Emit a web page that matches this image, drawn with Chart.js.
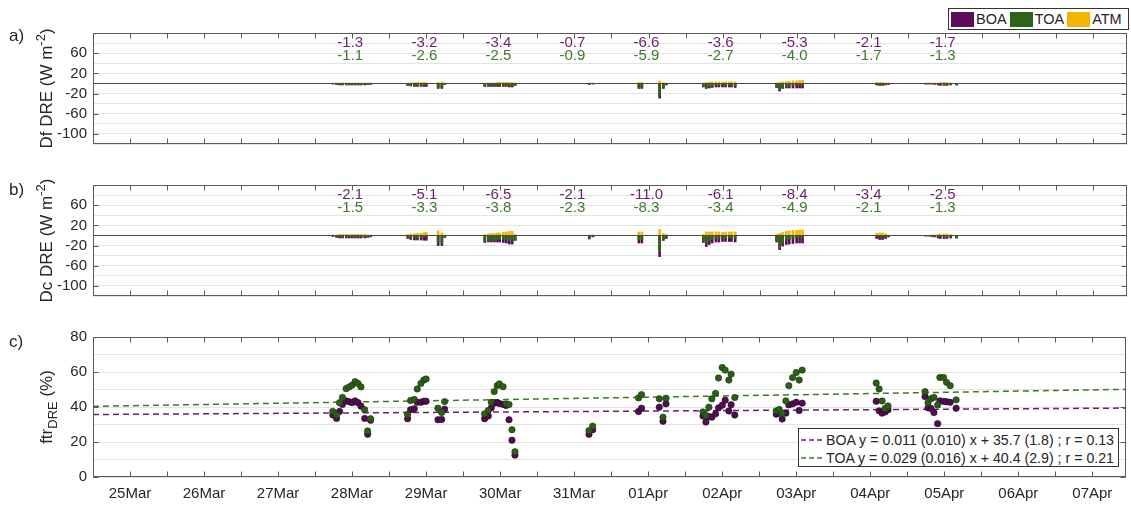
<!DOCTYPE html>
<html>
<head>
<meta charset="utf-8">
<script src="https://cdn.jsdelivr.net/npm/chart.js@4.4.0/dist/chart.umd.min.js"></script>
<style>
  html, body { margin: 0; padding: 0; background: #fff; }
  #wrap { position: relative; width: 1131px; height: 506px; overflow: hidden;
          font-family: 'Liberation Sans', Arial, Helvetica, sans-serif; color: #262626; }
  #wrap canvas { position: absolute; left: 0; top: 0; }
  .tag { position: absolute; left: 9px; font-size: 17px; line-height: 17px; }
  #topLegend { position: absolute; left: 948px; top: 8px; width: 181px; height: 22px; box-sizing: border-box;
               border: 1px solid #333; background: #fff; display: flex; align-items: center;
               padding-left: 2px; font-size: 14.5px; white-space: nowrap; }
  #topLegend .sw { width: 23px; height: 15px; margin-right: 2px; }
  #topLegend .lb { margin-right: 3px; }
  #fitLegend { position: absolute; left: 798px; top: 428px; width: 321px; height: 39px; box-sizing: border-box;
               border: 1px solid #333; background: #fff; font-size: 14.2px; padding: 2px 0 0 2px; white-space: nowrap; }
  #fitLegend .row { display: flex; align-items: center; height: 18px; }
  #fitLegend svg { margin-right: 1px; }
</style>
</head>
<body>
<div id="wrap">
  <canvas id="chartA" width="1131" height="506"></canvas>
  <canvas id="chartB" width="1131" height="506"></canvas>
  <canvas id="chartC" width="1131" height="506"></canvas>
  <div class="tag" style="top:27px">a)</div>
  <div class="tag" style="top:181px">b)</div>
  <div class="tag" style="top:333px">c)</div>
  <div id="topLegend">
    <span class="sw" style="background:#5c0c5c"></span><span class="lb">BOA</span>
    <span class="sw" style="background:#2d6418"></span><span class="lb">TOA</span>
    <span class="sw" style="background:#f4b400"></span><span class="lb">ATM</span>
  </div>
  <div id="fitLegend">
    <div class="row"><svg width="24" height="10"><line x1="0" y1="5" x2="24" y2="5" stroke="#6a1f6a" stroke-width="1.5" stroke-dasharray="5,3"/></svg><span>BOA y = 0.011 (0.010) x + 35.7 (1.8) ; r = 0.13</span></div>
    <div class="row"><svg width="24" height="10"><line x1="0" y1="5" x2="24" y2="5" stroke="#3d7a28" stroke-width="1.5" stroke-dasharray="5,3"/></svg><span>TOA y = 0.029 (0.016) x + 40.4 (2.9) ; r = 0.21</span></div>
  </div>
</div>
<script>
// x axis: days since 25 Mar 00:00
const dayLabels = ['25Mar', '26Mar', '27Mar', '28Mar', '29Mar', '30Mar', '31Mar',
                   '01Apr', '02Apr', '03Apr', '04Apr', '05Apr', '06Apr', '07Apr'];
const dayTicks = [0, 1, 2, 3, 4, 5, 6, 7, 8, 9, 10, 11, 12, 13];
const halfDayTicks = Array.from({ length: 27 }, (_, i) => i / 2);
const abLabels = [60, 20, -20, -60, -100];
const cLabels = [0, 20, 40, 60, 80];

// sampling times (days since 25 Mar)
const times = [
  2.74, 2.79, 2.83, 2.87, 2.92, 2.96, 3.00, 3.04, 3.08, 3.12, 3.17, 3.21, 3.25,   // 28Mar
  3.75, 3.79, 3.84, 3.88, 3.93, 3.97, 4.00, 4.16, 4.21, 4.25,                     // 29Mar
  4.79, 4.84, 4.88, 4.92, 4.96, 4.99, 5.04, 5.08, 5.12, 5.16, 5.20,               // 30Mar
  6.20, 6.25,                                                                     // 31Mar
  6.87, 6.91, 7.15, 7.20, 7.24,                                                   // 01Apr
  7.74, 7.78, 7.82, 7.86, 7.91, 7.95, 8.00, 8.04, 8.09, 8.12, 8.17,               // 02Apr
  8.73, 8.77, 8.81, 8.86, 8.90, 8.95, 9.00, 9.04, 9.08,                           // 03Apr
  10.08, 10.12, 10.16, 10.20, 10.24,                                              // 04Apr
  10.74, 10.78, 10.82, 10.86, 10.91, 10.94, 10.99, 11.03, 11.08, 11.16            // 05Apr
];

// a) Df DRE (W m-2)
const dfBoa = [
  -1, -2, -3, -3, -3, -3, -3, -3, -3, -3, -3, -2, -2,
  -4, -5, -6, -6, -6, -6, -6, -10, -10, -2,
  -6, -6, -6, -6, -6, -6, -6, -6, -7, -7, -4,
  -2, -1,
  -10, -10, -29, -10, -3,
  -7, -10, -9, -8, -7, -7, -7, -7, -7, -7, -8,
  -8, -15, -10, -9, -9, -9, -9, -9, -9,
  -3, -4, -4, -3, -2,
  -1, -1, -1, -2, -3, -4, -4, -4, -3, -3
];
const dfToa = [
  -1, -2, -2, -2, -2, -2, -2, -2, -2, -2, -2, -2, -1,
  -3, -4, -4, -4, -4, -4, -4, -8, -7, -2,
  -5, -5, -5, -5, -4, -4, -4, -4, -5, -5, -3,
  -1.5, -1,
  -8, -8, -24, -8, -2,
  -6, -8, -6, -5, -4, -4, -4, -4, -4, -4, -5,
  -7, -13, -8, -6, -5, -4, -4, -3, -3,
  -1, -2, -2, -2, -1,
  -0.5, -0.5, -1, -1, -2, -2, -2, -2, -2, -3
];
const dfAtm = [
  0.5, 1, 1, 1, 1, 1, 1, 1, 1, 1, 1, 0.5, 0.5,
  1, 1, 2, 2, 2, 2, 2, 2, 3, 0.5,
  1, 1, 1, 1, 2, 2, 2, 2, 2, 2, 1,
  0.5, 1,
  2, 2, 5, 2, 1,
  1, 2, 3, 3, 3, 3, 3, 3, 3, 3, 3,
  1, 2, 3, 4, 4, 5, 5, 6, 6,
  2, 2, 2, 1, 1,
  0.5, 0.5, 0.5, 1, 1, 2, 2, 2, 1, 0
];

// b) Dc DRE (W m-2)
const dcBoa = [
  -2, -4, -5, -5, -5, -5, -5, -5, -5, -5, -5, -4, -3,
  -6, -8, -9, -9, -9, -9.5, -9.5, -20, -20, -4,
  -14, -13, -13, -13, -13, -13, -14, -15, -17, -17, -10,
  -7, -3,
  -15, -15, -42, -10, -6,
  -14, -22, -18, -15, -13, -13, -12, -12, -12, -12, -13,
  -13, -28, -21, -18, -17, -16, -15, -15, -15,
  -6, -8, -8, -6, -3,
  -1, -1, -2, -3, -5, -6, -6, -6, -5, -5
];
const dcToa = [
  -2, -3, -3, -3, -3, -3, -3, -3, -3, -3, -3, -3, -2,
  -4, -5, -5.5, -5, -4.5, -4, -3.5, -14, -15, -3,
  -12, -11, -10, -9, -9, -8, -8, -8, -9, -10, -8,
  -6, -2,
  -8, -8, -33, -8, -4,
  -12, -15, -11, -8, -6, -6, -6, -5, -5, -5, -6,
  -11, -24, -15, -10, -8, -6, -5, -4, -4,
  -2, -3, -3, -3, -2,
  -1, -1, -1, -2, -3, -3, -3, -3, -3, -5
];
const dcAtm = [
  1, 1, 2, 2, 2, 2, 2, 2, 2, 2, 2, 1, 1,
  2, 3, 3.5, 4, 4.5, 5.5, 6, 9, 5, 1,
  2, 3, 4, 4, 5, 5, 6, 7, 8, 8, 2,
  1, 1,
  7, 7, 12, 4, 2,
  2, 7, 7, 7, 7, 7, 6, 7, 7, 7, 7,
  2, 4, 6, 8, 9, 10, 10, 11, 11,
  4, 5, 5, 3, 1,
  0, 0, 1, 1, 2, 3, 3, 3, 2, 0
];

// daily means written above panels a and b
const meanDays = [3, 4, 5, 6, 7, 8, 9, 10, 11];
const dfMeanBoa = [-1.3, -3.2, -3.4, -0.7, -6.6, -3.6, -5.3, -2.1, -1.7];
const dfMeanToa = [-1.1, -2.6, -2.5, -0.9, -5.9, -2.7, -4.0, -1.7, -1.3];
const dcMeanBoa = [-2.1, -5.1, -6.5, -2.1, -11.0, -6.1, -8.4, -3.4, -2.5];
const dcMeanToa = [-1.5, -3.3, -3.8, -2.3, -8.3, -3.4, -4.9, -2.1, -1.3];

// c) ftr DRE (%)
const ftrBoa = [
  35.5, 33.5, 37.5, 41.5, 43.5, 43.0, 42.5, 43.5, 42.5, 40.5, 33.5, 24.4, 32.4,
  33.3, 38.4, 39.0, 42.7, 42.7, 43.3, 43.3, 32.7, 32.9, 38.8,
  33.3, 34.9, 39.5, 42.2, 42.5, 42.0, 41.5, 40.8, 32.7, 21.0, 12.5,
  24.4, 27.0,
  37.4, 39.3, 39.9, 31.8, 41.8,
  34.9, 31.4, 34.6, 34.2, 36.1, 39.5, 41.0, 43.9, 37.7, 41.3, 35.4,
  35.9, 36.5, 33.1, 36.5, 41.2, 41.8, 42.7, 38.0, 42.2,
  43.3, 37.8, 36.5, 37.2, 38.4,
  46.0, 39.5, 39.2, 36.8, 30.5, 43.5, 43.2, 43.0, 42.7, 39.3
];
const ftrToa = [
  37.5, 35.5, 42.5, 45.5, 50.5, 51.5, 52.5, 54.5, 53.5, 51.5, 38.5, 26.3, 33.3,
  35.7, 43.7, 44.3, 50.3, 53.5, 55.4, 56.0, 39.3, 36.9, 43.1,
  36.1, 38.0, 42.7, 48.8, 52.2, 53.2, 51.6, 41.8, 41.4, 27.0, 14.4,
  26.5, 29.0,
  45.2, 47.1, 44.7, 34.2, 45.0,
  37.2, 35.2, 39.9, 44.7, 47.8, 56.6, 62.6, 61.1, 55.4, 58.8, 45.4,
  37.8, 38.6, 36.3, 43.5, 52.2, 56.8, 59.7, 55.4, 61.1,
  53.7, 50.3, 43.4, 39.2, 40.6,
  48.8, 42.5, 44.7, 45.5, 41.2, 56.9, 56.9, 54.1, 52.2, 44.1
];
// fit lines, end points at the axis limits
const fitX = [-0.5, 13.46];
const fitBoa = [35.7, 39.4];
const fitToa = [40.4, 50.1];

const X_MIN = -0.5, X_MAX = 13.46;
const C_BOA = '#5c0c5c', C_TOA = '#2d6418', C_ATM = '#f4b400';
const FONT = "'Liberation Sans', Arial, Helvetica, sans-serif";

Chart.defaults.font.family = FONT;
Chart.defaults.color = '#262626';

const pts = (xs, ys) => xs.map((t, i) => ({ x: t, y: ys[i] }));

// box, inward ticks and zero line, like the matlab axes
function framePlugin(yTicks, zeroLine) {
  return {
    id: 'frame',
    afterDatasetsDraw(chart) {
      const { ctx, chartArea: a, scales: { x, y } } = chart;
      const L = Math.round(a.left) + 0.5, R = Math.round(a.right) - 0.5;
      const T = Math.round(a.top) + 0.5, B = Math.round(a.bottom) - 0.5;
      ctx.save();
      ctx.lineWidth = 1;
      if (zeroLine) {
        const zy = Math.round(y.getPixelForValue(0)) + 0.5;
        ctx.strokeStyle = '#4a4a4a';
        ctx.beginPath(); ctx.moveTo(L, zy); ctx.lineTo(R, zy); ctx.stroke();
      }
      ctx.strokeStyle = '#5a5a5a';
      ctx.beginPath();
      halfDayTicks.forEach(v => {
        const px = Math.round(x.getPixelForValue(v)) + 0.5;
        ctx.moveTo(px, T); ctx.lineTo(px, T + 5);
        ctx.moveTo(px, B); ctx.lineTo(px, B - 5);
      });
      yTicks.forEach(v => {
        const py = Math.round(y.getPixelForValue(v)) + 0.5;
        ctx.moveTo(L, py); ctx.lineTo(L + 5, py);
        ctx.moveTo(R, py); ctx.lineTo(R - 5, py);
      });
      ctx.stroke();
      ctx.strokeRect(L, T, R - L, B - T);
      ctx.restore();
    }
  };
}

// rotated y title; parts with dy are drawn small and moved off the baseline
function yTitlePlugin(parts) {
  return {
    id: 'ytitle',
    afterDraw(chart) {
      const { ctx, chartArea: a } = chart;
      const big = '17px ' + FONT, small = '13px ' + FONT;
      ctx.save();
      ctx.fillStyle = '#262626';
      ctx.textBaseline = 'middle';
      const widths = parts.map(p => { ctx.font = p.dy ? small : big; return ctx.measureText(p.t).width; });
      const total = widths.reduce((s, w) => s + w, 0);
      ctx.translate(47, (a.top + a.bottom) / 2);
      ctx.rotate(-Math.PI / 2);
      let cx = -total / 2;
      parts.forEach((p, i) => {
        ctx.font = p.dy ? small : big;
        ctx.fillText(p.t, cx, p.dy ? p.dy : 0);
        cx += widths[i];
      });
      ctx.restore();
    }
  };
}

// daily mean values above the bars
function meansPlugin(boa, toa) {
  return {
    id: 'means',
    afterDraw(chart) {
      const { ctx, scales: { x, y } } = chart;
      ctx.save();
      ctx.font = '15px ' + FONT;
      ctx.textAlign = 'center';
      ctx.textBaseline = 'middle';
      meanDays.forEach((d, i) => {
        const px = x.getPixelForValue(d) - 2;
        ctx.fillStyle = '#6b1f6b';
        ctx.fillText(boa[i].toFixed(1), px, y.getPixelForValue(80.3));
        ctx.fillStyle = '#3f7a28';
        ctx.fillText(toa[i].toFixed(1), px, y.getPixelForValue(55.3));
      });
      ctx.restore();
    }
  };
}

function xScale(show) {
  return {
    type: 'linear', min: X_MIN, max: X_MAX, offset: false, display: show,
    grid: { display: false, drawTicks: false },
    border: { display: false },
    afterBuildTicks: s => { s.ticks = dayTicks.map(v => ({ value: v })); },
    ticks: { autoSkip: false, maxRotation: 0, padding: 8, font: { size: 15 },
             callback: (v, i) => dayLabels[i] },
    afterFit: s => { s.height = 29; }
  };
}

function yScale(min, max, step, labels) {
  return {
    min, max,
    ticks: { stepSize: step, autoSkip: false, padding: 6, font: { size: 15 },
             callback: v => labels.includes(v) ? String(v) : '' },
    grid: { color: '#e3e3e3', drawTicks: false },
    border: { display: false },
    afterFit: s => { s.width = 93; }
  };
}

function barDs(label, ys, color, order) {
  return { type: 'bar', label, data: pts(times, ys), backgroundColor: color,
           borderWidth: 0, barThickness: 2, grouped: false, order };
}

function barChart(id, boa, toa, atm, mBoa, mToa, top, title) {
  return new Chart(document.getElementById(id), {
    type: 'bar',
    data: { datasets: [barDs('BOA', boa, C_BOA, 2), barDs('TOA', toa, C_TOA, 1), barDs('ATM', atm, C_ATM, 0)] },
    options: {
      responsive: false, animation: false, devicePixelRatio: 1,
      layout: { padding: { top, bottom: 506 - top - 140, left: 0, right: 4 } },
      scales: { x: xScale(false), y: yScale(-120, 100, 20, abLabels) },
      plugins: { legend: { display: false }, tooltip: { enabled: false } }
    },
    plugins: [framePlugin(abLabels, true), meansPlugin(mBoa, mToa), yTitlePlugin(title)]
  });
}

barChart('chartA', dfBoa, dfToa, dfAtm, dfMeanBoa, dfMeanToa, 33,
  [{ t: 'Df DRE (W m' }, { t: '-2', dy: -6 }, { t: ')' }]);
barChart('chartB', dcBoa, dcToa, dcAtm, dcMeanBoa, dcMeanToa, 185,
  [{ t: 'Dc DRE (W m' }, { t: '-2', dy: -6 }, { t: ')' }]);

new Chart(document.getElementById('chartC'), {
  type: 'scatter',
  data: {
    datasets: [
      { label: 'TOA', data: pts(times, ftrToa), backgroundColor: '#2b5e16', borderColor: '#17360b',
        borderWidth: 0.6, pointRadius: 3.2, order: 0 },
      { label: 'BOA', data: pts(times, ftrBoa), backgroundColor: '#4f0e4f', borderColor: '#2a052a',
        borderWidth: 0.6, pointRadius: 3.2, order: 1 },
      { type: 'line', label: 'BOA fit', data: pts(fitX, fitBoa), borderColor: '#6a1f6a', borderWidth: 1.5,
        borderDash: [6, 4], pointRadius: 0, fill: false, order: 2 },
      { type: 'line', label: 'TOA fit', data: pts(fitX, fitToa), borderColor: '#3d7a28', borderWidth: 1.5,
        borderDash: [6, 4], pointRadius: 0, fill: false, order: 3 }
    ]
  },
  options: {
    responsive: false, animation: false, devicePixelRatio: 1,
    layout: { padding: { top: 337, bottom: 0, left: 0, right: 4 } },
    scales: { x: xScale(true), y: yScale(0, 80, 10, cLabels) },
    plugins: { legend: { display: false }, tooltip: { enabled: false } }
  },
  plugins: [framePlugin(cLabels, false),
            yTitlePlugin([{ t: 'ftr' }, { t: 'DRE', dy: 6 }, { t: ' (%)' }])]
});
</script>
</body>
</html>
